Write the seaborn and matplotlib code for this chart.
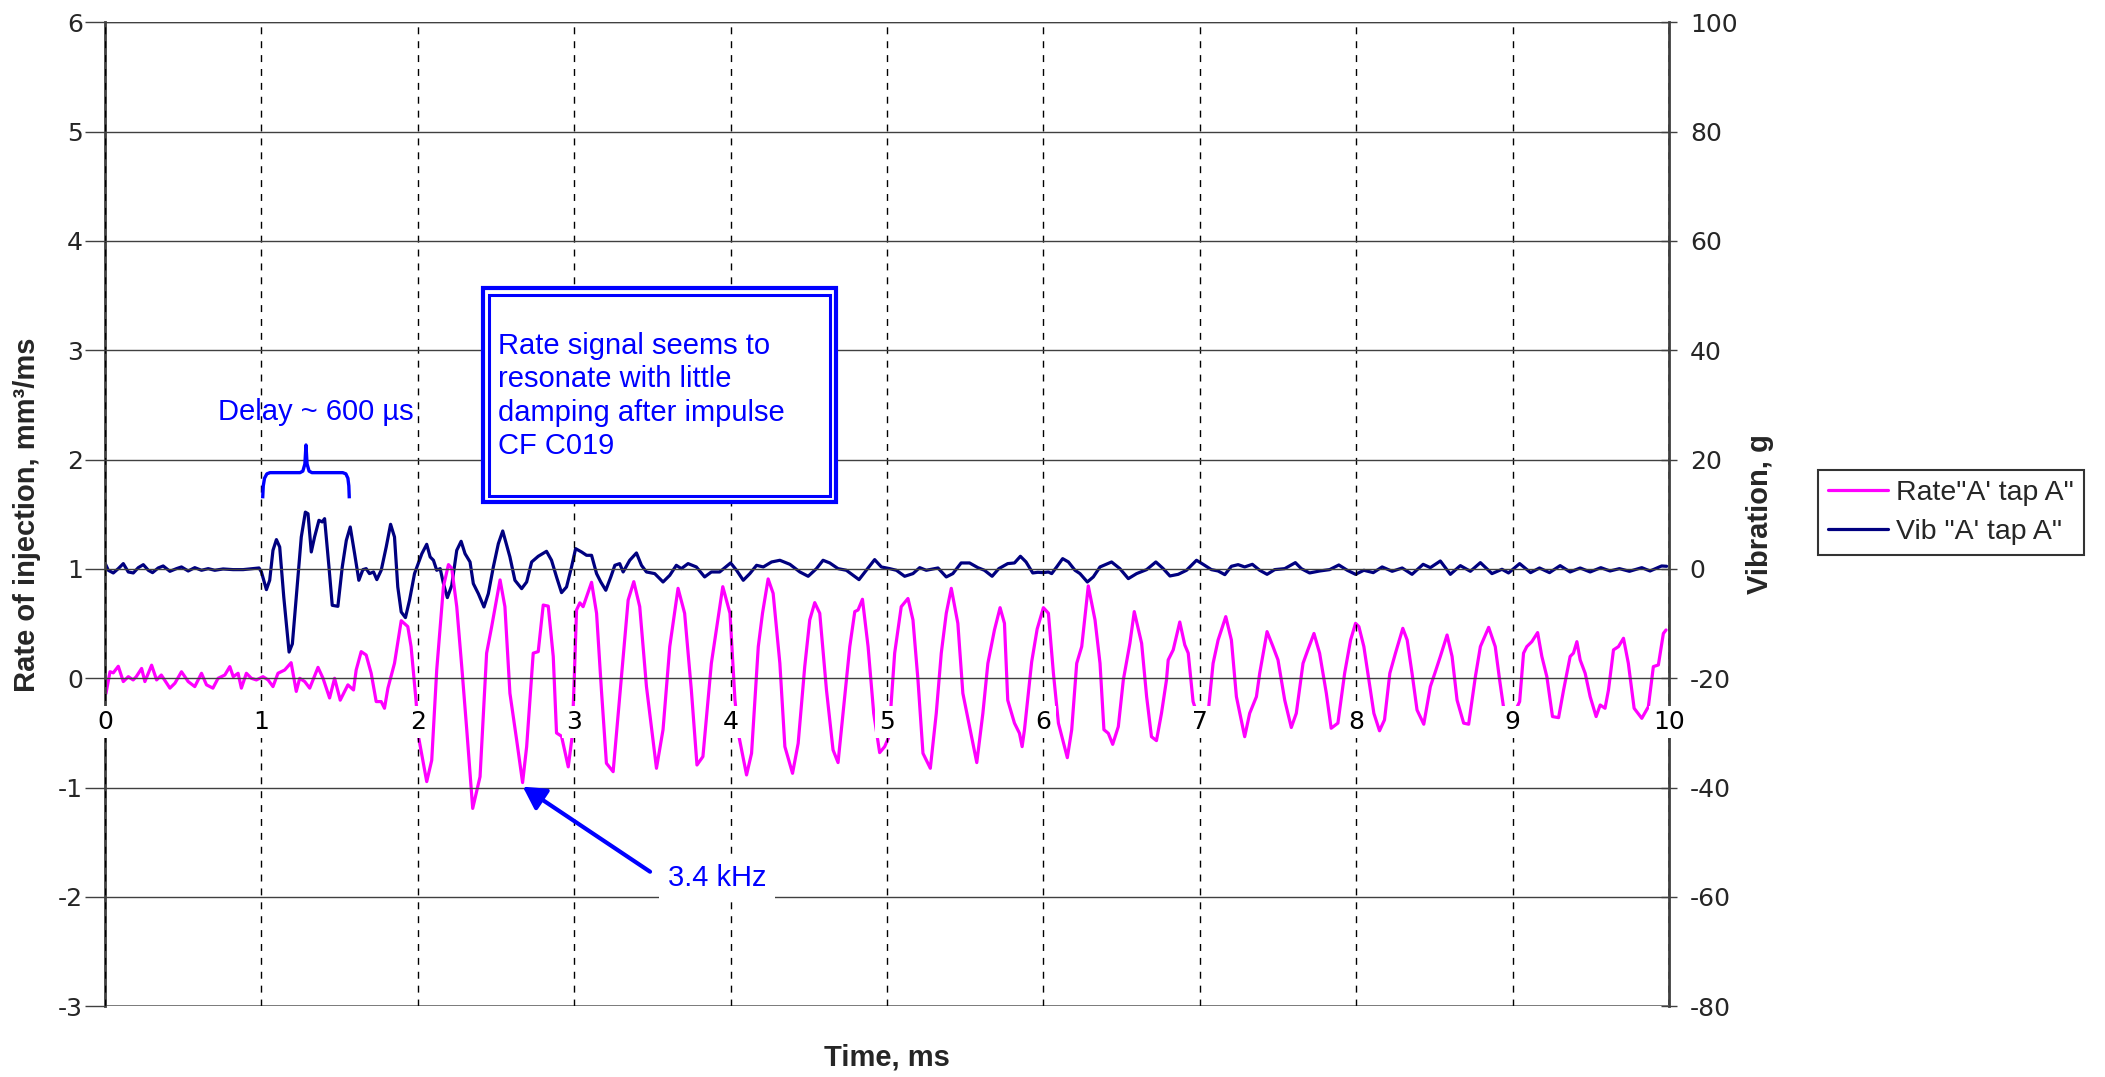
import matplotlib
matplotlib.use("Agg")
import matplotlib.pyplot as plt
from matplotlib.patches import Rectangle
import seaborn as sns

# Rate of injection (left axis, mm3/ms)
rate_t = [0.006, 0.032, 0.053, 0.085, 0.117, 0.149, 0.18, 0.2, 0.234, 0.255, 0.298, 0.33, 0.36, 0.415, 0.447,
          0.489, 0.532, 0.574, 0.617, 0.649, 0.69, 0.723, 0.766, 0.798, 0.82, 0.851, 0.872, 0.904, 0.936, 0.968,
          1.01, 1.043, 1.074, 1.106, 1.149, 1.19, 1.223, 1.245, 1.277, 1.309, 1.362, 1.394, 1.436, 1.468, 1.504,
          1.553, 1.589, 1.606, 1.638, 1.67, 1.702, 1.734, 1.766, 1.787, 1.809, 1.851, 1.894, 1.936, 1.957, 1.989,
          2.004, 2.057, 2.089, 2.121, 2.164, 2.196, 2.217, 2.249, 2.281, 2.313, 2.351, 2.398, 2.44, 2.472, 2.526,
          2.557, 2.589, 2.632, 2.67, 2.696, 2.738, 2.77, 2.802, 2.834, 2.866, 2.887, 2.919, 2.962, 2.987, 3.0,
          3.015, 3.036, 3.057, 3.111, 3.143, 3.174, 3.206, 3.249, 3.291, 3.345, 3.381, 3.419, 3.462, 3.526, 3.568,
          3.611, 3.664, 3.706, 3.749, 3.785, 3.823, 3.877, 3.909, 3.95, 3.996,
          4.028, 4.049, 4.102, 4.134, 4.177, 4.204, 4.24, 4.272, 4.315, 4.347, 4.396, 4.432, 4.474, 4.506, 4.538,
          4.57, 4.613, 4.655, 4.687, 4.73, 4.762, 4.794, 4.815, 4.843, 4.879, 4.915, 4.953, 4.985, 5.013, 5.028,
          5.049, 5.091, 5.134, 5.166, 5.198, 5.23, 5.277, 5.315, 5.347, 5.379, 5.411, 5.453, 5.485, 5.528, 5.574,
          5.613, 5.645, 5.687, 5.723, 5.751, 5.772, 5.815, 5.847, 5.864, 5.879, 5.925, 5.96, 6.0,
          6.032, 6.064, 6.096, 6.153, 6.181, 6.213, 6.245, 6.287, 6.33, 6.362, 6.387, 6.415, 6.443, 6.479, 6.511,
          6.553, 6.581, 6.628, 6.66, 6.691, 6.723, 6.755, 6.787, 6.798, 6.83, 6.872, 6.904, 6.926, 6.957, 7.0,
          7.053, 7.085, 7.117, 7.166, 7.202, 7.234, 7.287, 7.319, 7.362, 7.383, 7.43, 7.468, 7.5, 7.543, 7.585,
          7.617, 7.66, 7.691, 7.73, 7.766, 7.809, 7.84, 7.883, 7.926, 7.964, 7.996,
          8.017, 8.049, 8.081, 8.113, 8.149, 8.181, 8.215, 8.251, 8.298, 8.326, 8.357, 8.389, 8.432, 8.474, 8.506,
          8.538, 8.581, 8.613, 8.645, 8.687, 8.719, 8.762, 8.794, 8.847, 8.889, 8.917, 8.943, 8.99,
          9.045, 9.07, 9.091, 9.123, 9.16, 9.187, 9.219, 9.255, 9.294, 9.326, 9.368, 9.389, 9.411, 9.432, 9.464,
          9.496, 9.534, 9.56, 9.591, 9.613, 9.645, 9.677, 9.709, 9.74, 9.777, 9.826, 9.868, 9.9, 9.932, 9.964, 9.981]
rate_v = [-0.14, 0.06, 0.05, 0.11, -0.03, 0.015, -0.015, 0.015, 0.09, -0.03, 0.12, -0.015, 0.03, -0.09, -0.045,
          0.06, -0.03, -0.076, 0.046, -0.06, -0.09, 0.0, 0.03, 0.107, 0.015, 0.046, -0.09, 0.046, 0.0, -0.015,
          0.015, -0.015, -0.076, 0.046, 0.076, 0.143, -0.12, 0.0, -0.03, -0.09, 0.1, 0.0, -0.18, 0.0, -0.2,
          -0.06, -0.107, 0.076, 0.244, 0.213, 0.046, -0.213, -0.213, -0.274, -0.09, 0.137, 0.527, 0.473, 0.29, -0.21,
          -0.53, -0.945, -0.75, 0.076, 0.84, 1.04, 1.006, 0.655, 0.107, -0.47, -1.19, -0.9, 0.23, 0.47, 0.9,
          0.655, -0.137, -0.564, -0.954, -0.625, 0.23, 0.244, 0.67, 0.66, 0.2, -0.5, -0.53, -0.81, -0.53, -0.015,
          0.625, 0.69, 0.655, 0.878, 0.595, -0.107, -0.777, -0.854, -0.168, 0.716, 0.884, 0.655, -0.076, -0.823, -0.47,
          0.29, 0.823, 0.595, -0.107, -0.793, -0.716, 0.137, 0.442, 0.838, 0.595,
          -0.2, -0.5, -0.884, -0.686, 0.29, 0.595, 0.909, 0.777, 0.137, -0.625, -0.869, -0.595, 0.107, 0.534, 0.692,
          0.595, -0.107, -0.655, -0.771, -0.168, 0.29, 0.61, 0.625, 0.723, 0.29, -0.32, -0.68, -0.625, -0.534, -0.2,
          0.23, 0.655, 0.73, 0.534, -0.015, -0.686, -0.823, -0.32, 0.23, 0.595, 0.823, 0.503, -0.137, -0.442, -0.771,
          -0.32, 0.137, 0.442, 0.646, 0.503, -0.2, -0.41, -0.503, -0.625, -0.47, 0.15, 0.45, 0.646,
          0.595, 0.046, -0.41, -0.726, -0.47, 0.137, 0.29, 0.845, 0.534, 0.137, -0.47, -0.503, -0.604, -0.442, -0.015,
          0.32, 0.61, 0.32, -0.168, -0.534, -0.57, -0.32, -0.015, 0.168, 0.26, 0.515, 0.305, 0.23, -0.213, -0.4,
          -0.32, 0.137, 0.35, 0.564, 0.35, -0.168, -0.534, -0.32, -0.168, 0.046, 0.427, 0.29, 0.168, -0.2, -0.45,
          -0.32, 0.137, 0.26, 0.41, 0.23, -0.137, -0.457, -0.41, 0.046, 0.35, 0.503,
          0.473, 0.29, -0.015, -0.32, -0.48, -0.38, 0.046, 0.23, 0.457, 0.35, 0.046, -0.29, -0.42, -0.076, 0.06,
          0.2, 0.396, 0.2, -0.2, -0.41, -0.42, 0.015, 0.29, 0.466, 0.29, -0.015, -0.274, -0.38,
          -0.213, 0.23, 0.29, 0.335, 0.418, 0.2, 0.015, -0.35, -0.36, -0.107, 0.2, 0.23, 0.335, 0.168, 0.046,
          -0.168, -0.35, -0.244, -0.274, -0.107, 0.26, 0.29, 0.366, 0.137, -0.274, -0.366, -0.26, 0.107, 0.122, 0.41, 0.442]

# Vibration (right axis, g)
vib_t = [0.0, 0.021, 0.053, 0.085, 0.117, 0.149, 0.181, 0.213, 0.245, 0.277, 0.304, 0.34, 0.372, 0.415, 0.457,
         0.489, 0.532, 0.574, 0.617, 0.66, 0.702, 0.755, 0.819, 0.883, 0.947, 0.985, 1.0, 1.015, 1.032, 1.053,
         1.074, 1.096, 1.117, 1.143, 1.177, 1.198, 1.223, 1.255, 1.281, 1.298, 1.319, 1.34, 1.368, 1.389, 1.404,
         1.432, 1.453, 1.489, 1.517, 1.543, 1.568, 1.596, 1.623, 1.649, 1.67, 1.691, 1.717, 1.738, 1.766, 1.798,
         1.826, 1.851, 1.872, 1.894, 1.921, 1.947, 1.979, 2.026, 2.057, 2.079, 2.1, 2.121, 2.143, 2.164, 2.189,
         2.217, 2.249, 2.277, 2.302, 2.334, 2.355, 2.387, 2.423, 2.451, 2.483, 2.515, 2.543, 2.568, 2.589, 2.621,
         2.664, 2.696, 2.728, 2.77, 2.823, 2.855, 2.887, 2.919, 2.951, 2.983, 3.009, 3.047, 3.079, 3.111, 3.143,
         3.17, 3.202, 3.234, 3.26, 3.291, 3.313, 3.355, 3.398, 3.43, 3.462, 3.515, 3.568, 3.611, 3.653, 3.685,
         3.728, 3.781, 3.834, 3.877, 3.93, 4.0, 4.038, 4.081, 4.123, 4.166, 4.209, 4.262, 4.315, 4.379, 4.443,
         4.496, 4.549, 4.591, 4.634, 4.687, 4.74, 4.821, 4.868, 4.921, 4.964, 5.017, 5.06, 5.113, 5.166, 5.209,
         5.251, 5.326, 5.379, 5.421, 5.474, 5.528, 5.581, 5.623, 5.672, 5.715, 5.772, 5.815, 5.853, 5.889, 5.932,
         5.964, 6.0, 6.032, 6.053, 6.085, 6.123, 6.16, 6.202, 6.234, 6.281, 6.319, 6.362, 6.436, 6.489, 6.543,
         6.596, 6.66, 6.719, 6.766, 6.809, 6.862, 6.915, 6.979, 7.021, 7.074, 7.117, 7.16, 7.202, 7.245, 7.287,
         7.336, 7.383, 7.43, 7.479, 7.543, 7.611, 7.649, 7.702, 7.766, 7.83, 7.889, 7.943, 7.996, 8.049, 8.109,
         8.166, 8.23, 8.294, 8.357, 8.428, 8.474, 8.538, 8.602, 8.666, 8.73, 8.794, 8.868, 8.932, 8.974, 9.045,
         9.115, 9.172, 9.236, 9.304, 9.368, 9.432, 9.496, 9.564, 9.623, 9.683, 9.747, 9.826, 9.879, 9.953, 9.985]
vib_g = [1.1, -0.24, -0.73, 0.06, 0.98, -0.55, -0.73, 0.24, 0.79, -0.24, -0.67, 0.18, 0.55, -0.43, 0.06,
         0.37, -0.37, 0.24, -0.24, 0.06, -0.24, 0.0, -0.12, -0.12, 0.06, 0.18, -0.55, -2.07, -3.78, -2.07,
         3.41, 5.37, 4.02, -5.12, -15.2, -13.7, -5.12, 5.85, 10.4, 10.1, 3.11, 5.85, 8.9, 8.6, 9.2,
         0.37, -6.65, -6.83, 0.37, 5.24, 7.68, 2.8, -2.07, -0.12, 0.06, -0.85, -0.55, -1.95, -0.24, 4.02,
         8.17, 5.85, -3.29, -7.87, -8.9, -5.73, -0.85, 2.8, 4.51, 2.2, 1.59, -0.24, 0.06, -2.68, -5.24,
         -2.99, 3.41, 5.06, 2.8, 1.28, -2.68, -4.51, -6.95, -4.51, 0.37, 4.63, 6.95, 4.33, 2.2, -2.07,
         -3.6, -2.38, 1.28, 2.32, 3.23, 1.59, -1.46, -4.33, -3.29, 0.37, 3.72, 3.11, 2.5, 2.5, -0.85,
         -2.38, -3.9, -1.46, 0.67, 0.98, -0.55, 1.59, 2.93, 0.67, -0.55, -0.85, -2.38, -1.16, 0.67, 0.06,
         0.98, 0.37, -1.46, -0.55, -0.55, 1.1, -0.24, -2.07, -0.85, 0.67, 0.37, 1.28, 1.59, 0.85, -0.55,
         -1.34, 0.06, 1.59, 1.1, 0.06, -0.24, -1.95, -0.24, 1.71, 0.37, 0.06, -0.24, -1.34, -0.85, 0.24,
         -0.24, 0.18, -1.46, -0.85, 1.1, 1.1, 0.24, -0.24, -1.34, 0.06, 0.98, 1.1, 2.32, 1.28, -0.73,
         -0.61, -0.67, -0.55, -0.85, 0.37, 1.89, 1.28, -0.24, -0.85, -2.38, -1.46, 0.37, 1.28, 0.06, -1.77,
         -0.85, -0.12, 1.28, 0.06, -1.28, -0.98, -0.24, 1.59, 0.85, -0.12, -0.37, -1.04, 0.49, 0.79, 0.37,
         0.85, -0.24, -0.98, -0.12, 0.06, 1.16, 0.06, -0.73, -0.37, -0.12, 0.73, -0.24, -0.98, -0.24, -0.67,
         0.37, -0.43, 0.18, -0.98, 0.85, 0.24, 1.46, -0.98, 0.61, -0.43, 1.16, -0.85, -0.06, -0.73, 0.98,
         -0.67, 0.18, -0.67, 0.61, -0.55, 0.18, -0.55, 0.24, -0.37, 0.06, -0.43, 0.24, -0.37, 0.55, 0.49]

x_ticks = list(range(0, 11))
left_ticks = list(range(-3, 7))
right_ticks = list(range(-80, 101, 20))

sns.set_style("white")
plt.rcParams['font.family'] = ['Liberation Sans', 'DejaVu Sans']

W, H = 2105, 1077
fig = plt.figure(figsize=(W / 100, H / 100), dpi=100)
ax = fig.add_axes([105 / W, 1 - 1006.3 / H, 1564 / W, 984 / H])
ax2 = ax.twinx()

# rate axis on top so its tick labels can mask the traces
ax.set_zorder(2)
ax2.set_zorder(1)
ax.patch.set_visible(False)

sns.lineplot(x=vib_t, y=vib_g, ax=ax2, color='#000080', lw=2.3, estimator=None, sort=False, legend=False)
sns.lineplot(x=rate_t, y=rate_v, ax=ax, color='#FF00FF', lw=2.3, estimator=None, sort=False, legend=False)

ax.set_xlim(0, 10)
ax.set_ylim(-3, 6)
ax2.set_ylim(-80, 100)
ax.set_xticks(x_ticks)
ax.set_yticks(left_ticks)
ax2.set_yticks(right_ticks)
ax.set_xticklabels([str(v) for v in x_ticks])
ax.set_yticklabels([str(v) for v in left_ticks])
ax2.set_yticklabels([str(v) for v in right_ticks])

ax.set_axisbelow(False)
ax.yaxis.grid(True, color='#404040', lw=1.0)
ax.xaxis.grid(True, color='black', lw=1.0, ls=(0, (5, 5)))
ax2.grid(False)

for s in ['top', 'right']:
    ax.spines[s].set_visible(False)
ax.spines['bottom'].set_position(('data', 0))
ax.spines['bottom'].set_color('none')
ax.spines['left'].set_color('#404040')
ax.spines['left'].set_linewidth(2)
for s in ['top', 'left', 'bottom']:
    ax2.spines[s].set_visible(False)
ax2.spines['right'].set_color('#404040')
ax2.spines['right'].set_linewidth(2)
ax.axhline(-3, color='#808080', lw=2, zorder=1)
ax.axhline(6, color='#404040', lw=1, zorder=1)

ax.tick_params(axis='x', length=0, pad=23, labelcolor='black', labelsize=18, labelfontfamily='DejaVu Sans')
ax.tick_params(axis='y', direction='out', length=14.5, width=1, color='#404040', pad=1.5,
               labelsize=18, labelfontfamily='DejaVu Sans')
ax2.tick_params(axis='y', direction='inout', length=12, width=1, color='#404040', pad=9,
                labelsize=18, labelfontfamily='DejaVu Sans')
for lbl in ax.get_xticklabels():
    lbl.set_bbox(dict(facecolor='white', edgecolor='none', pad=3))

ax.set_xlabel('Time, ms', fontsize=21, fontweight='bold', va='center')
ax.xaxis.set_label_coords(0.5, -0.0525)
ax.set_ylabel('Rate of injection, mm³/ms', fontsize=21, fontweight='bold', va='center')
ax.yaxis.set_label_coords(-0.0499, 0.5)
ax2.set_ylabel('Vibration, g', fontsize=21, fontweight='bold', va='center', rotation=90)
ax2.yaxis.set_label_coords(1.058, 0.5)

blue = '#0000FF'
# Delay brace and label
brace_x = [1.008, 1.012, 1.02, 1.035, 1.055, 1.247, 1.265, 1.278, 1.285, 1.292, 1.305, 1.323, 1.52, 1.54, 1.553, 1.559, 1.562]
brace_y = [1.646, 1.76, 1.83, 1.87, 1.881, 1.881, 1.895, 1.96, 2.134, 1.96, 1.895, 1.881, 1.881, 1.87, 1.83, 1.76, 1.646]
ax.plot(brace_x, brace_y, color=blue, lw=2.4, solid_capstyle='butt', zorder=6)
ax.text(1.35, 2.436, 'Delay ~ 600 µs', color=blue, fontsize=21, ha='center', va='center', zorder=6)

# double-framed note
ax.add_patch(Rectangle((2.417, 1.613), 2.257, 1.957, facecolor='white', edgecolor=blue, lw=3, zorder=5))
ax.add_patch(Rectangle((2.455, 1.667), 2.181, 1.839, facecolor='none', edgecolor=blue, lw=2.2, zorder=6))
ax.text(2.513, 2.582, 'Rate signal seems to\nresonate with little\ndamping after impulse\nCF C019',
        color=blue, fontsize=21, ha='left', va='center', linespacing=1.24, zorder=7)

# frequency arrow
ax.annotate('', xy=(2.671, -0.991), xytext=(3.485, -1.769),
            arrowprops=dict(arrowstyle='-|>,head_length=0.45,head_width=0.25', color=blue, lw=3,
                            mutation_scale=30, shrinkA=0, shrinkB=0), zorder=6)
ax.text(3.6, -1.827, '3.4 kHz', color=blue, fontsize=21, ha='left', va='center', zorder=6,
        bbox=dict(boxstyle='square,pad=0.3', facecolor='white', edgecolor='none'))

handles = [ax.lines[0], ax2.lines[0]]
leg = fig.legend(handles, ['Rate"A\' tap A"', 'Vib "A\' tap A"'], loc='upper left',
                 bbox_to_anchor=(1818 / W, 1 - 470 / H), borderaxespad=0, fontsize=20.5,
                 handlelength=2.1, handletextpad=0.3, borderpad=0.35, labelspacing=0.45,
                 frameon=True, fancybox=False, edgecolor='black')
leg.get_frame().set_linewidth(1.5)

fig.savefig('out.png', dpi=100, facecolor='white')
